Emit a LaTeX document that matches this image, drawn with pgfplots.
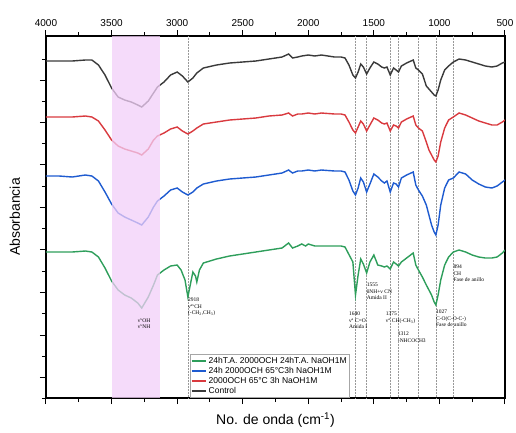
\documentclass[border=0pt]{standalone}
\usepackage{fontspec}
\setmainfont{Liberation Sans}
\newfontfamily\serif{Liberation Serif}
\usepackage{pgfplots}
\pgfplotsset{compat=1.18}
\usepackage{pgfplotstable}

\definecolor{cgreen}{HTML}{2E9E5B}
\definecolor{cblue}{HTML}{1E5BD0}
\definecolor{cred}{HTML}{D93A3F}
\definecolor{cblack}{HTML}{3A3A3A}
\definecolor{band}{HTML}{F2CFF8}

% w = wave number, p = vertical position (down is larger)
\pgfplotstableread{
w p
4000 61
3900 61
3800 61
3700 60
3650 60
3600 65
3550 75
3500 88
3450 97
3400 100
3350 102
3300 105
3270 107
3220 101
3180 93
3150 87
3100 82
3050 75
3000 72
2960 76
2918 82
2880 78
2850 73
2800 68
2700 65
2600 63
2500 62
2400 61
2300 59
2200 57
2150 54
2120 58
2080 57
2050 56
2000 55
1950 56
1900 55
1800 57
1750 57
1720 58
1690 65
1660 75
1640 78
1620 72
1600 64
1580 67
1555 74
1530 68
1500 62
1470 64
1440 67
1420 68
1400 67
1375 75
1350 68
1330 70
1312 72
1290 66
1250 63
1200 60
1180 68
1160 70
1130 74
1100 86
1060 92
1040 95
1027 96
1010 90
990 80
960 70
930 66
894 62
850 59
800 60
750 62
700 64
650 66
600 67
560 66
520 63
500 62
}\control

\pgfplotstableread{
w p
4000 117
3900 117
3800 117
3700 116
3650 117
3600 121
3550 130
3500 140
3450 146
3400 149
3350 151
3300 153
3270 155
3220 149
3180 140
3150 136
3100 133
3050 129
3000 127
2960 131
2918 134
2880 131
2850 128
2800 124
2700 122
2600 120
2500 119
2400 118
2300 116
2200 115
2150 113
2120 116
2080 114
2050 114
2000 113
1950 114
1900 113
1800 114
1750 114
1720 115
1690 122
1660 130
1640 133
1620 127
1600 121
1580 124
1555 131
1530 125
1500 118
1470 120
1440 123
1420 124
1400 123
1375 131
1350 125
1330 126
1312 128
1290 122
1250 119
1200 116
1180 125
1160 128
1130 131
1100 142
1080 150
1060 155
1040 160
1027 162
1010 156
990 142
960 128
930 120
894 117
850 113
800 115
750 118
700 121
650 123
600 125
560 125
520 122
500 120
}\redtab

\pgfplotstableread{
w p
4000 176
3900 176
3800 177
3700 175
3650 176
3600 181
3550 192
3500 204
3450 213
3400 217
3350 220
3300 223
3270 225
3220 217
3180 207
3150 201
3100 196
3050 190
3000 188
2960 192
2918 195
2880 192
2850 188
2800 184
2700 181
2600 179
2500 178
2400 177
2300 175
2200 173
2150 170
2120 173
2080 171
2050 171
2000 170
1950 171
1900 170
1800 171
1750 171
1720 172
1690 180
1660 191
1640 195
1620 188
1600 178
1580 182
1555 192
1530 184
1500 174
1470 177
1440 181
1420 183
1400 181
1375 192
1350 183
1330 184
1312 187
1290 178
1250 175
1200 172
1180 185
1160 190
1130 196
1100 205
1080 215
1060 225
1040 232
1027 235
1010 225
990 205
960 188
930 180
894 178
850 172
800 174
750 180
700 184
650 187
600 188
560 186
520 182
500 180
}\bluetab

\pgfplotstableread{
w p
4000 252
3900 252
3800 252
3700 251
3650 252
3600 257
3550 268
3500 281
3450 290
3400 295
3350 298
3300 303
3270 308
3220 297
3180 285
3150 275
3100 270
3050 266
3000 265
2970 270
2940 280
2918 297
2900 285
2880 272
2860 276
2850 282
2830 270
2800 263
2700 259
2600 256
2500 254
2400 252
2300 250
2200 248
2150 243
2120 248
2080 246
2050 244
2020 246
2000 244
1950 246
1900 246
1800 246
1750 246
1720 247
1700 252
1680 257
1660 262
1640 295
1620 275
1600 259
1580 264
1555 273
1530 262
1500 255
1470 265
1440 266
1420 267
1400 266
1375 269
1350 262
1330 264
1312 266
1290 262
1250 258
1200 253
1180 265
1160 270
1130 277
1100 285
1060 295
1040 302
1027 305
1010 295
990 280
960 265
930 257
894 252
850 250
800 252
750 255
700 257
650 258
600 258
560 257
520 253
500 250
}\greentab

\begin{document}
\begin{tikzpicture}
\begin{axis}[
    scale only axis,
    width=459pt, height=362pt,
    xmin=500, xmax=4000,
    ymin=36, ymax=398,
    x dir=reverse, y dir=reverse,
    xtick={500,1000,...,4000},
    minor x tick num=1,
    xticklabel pos=top,
    xticklabel style={/pgf/number format/1000 sep=, font=\fontsize{10}{11}\selectfont,
        anchor=center, yshift=1pt},
    xticklabel shift=6pt,
    /pgf/number format/assume math mode=true,
    ytick={377,335,292,249,207,164,122,80},
    minor ytick={398,356,313,271,228,186,143,101,59},
    yticklabels={},
    ytick pos=left,
    tick align=outside,
    major tick length=6pt,
    minor tick length=4pt,
    every tick/.style={black, line width=1pt},
    axis line style={black, line width=1.3pt},
    xlabel={No. de onda (cm\textsuperscript{-1})},
    ylabel={Absorbancia},
    xlabel style={font=\fontsize{14}{15}\selectfont, at={(axis description cs:0.5,-0.062)}, anchor=center},
    ylabel style={font=\fontsize{14}{15}\selectfont, at={(axis description cs:-0.068,0.5)}, anchor=center, rotate=0},
    legend style={at={(axis cs:2905,398)}, anchor=south west,
        font=\fontsize{8.5}{9}\selectfont, draw=gray!70, line width=0.6pt,
        inner sep=1pt, row sep=-1.8pt, fill=white},
    legend cell align=left,
    legend image code/.code={\draw[#1, line width=1.8pt] (0pt,0pt) -- (14pt,0pt);},
]
% reference lines
\addplot[forget plot, gray!80, densely dotted, line width=0.5pt] coordinates {(2918,36) (2918,398)};
\addplot[forget plot, gray!80, densely dotted, line width=0.5pt] coordinates {(1640,36) (1640,398)};
\addplot[forget plot, gray!80, densely dotted, line width=0.5pt] coordinates {(1555,36) (1555,398)};
\addplot[forget plot, gray!80, densely dotted, line width=0.5pt] coordinates {(1375,36) (1375,398)};
\addplot[forget plot, gray!80, densely dotted, line width=0.5pt] coordinates {(1312,36) (1312,398)};
\addplot[forget plot, gray!80, densely dotted, line width=0.5pt] coordinates {(1160,36) (1160,398)};
\addplot[forget plot, gray!80, densely dotted, line width=0.5pt] coordinates {(1027,36) (1027,398)};
\addplot[forget plot, gray!80, densely dotted, line width=0.5pt] coordinates {(894,36) (894,398)};

\addplot[cgreen, line width=1.4pt] table[x=w, y=p] {\greentab};
\addlegendentry{24hT.A. 2000OCH 24hT.A. NaOH1M}
\addplot[cblue, line width=1.4pt] table[x=w, y=p] {\bluetab};
\addlegendentry{24h 2000OCH 65°C3h NaOH1M}
\addplot[cred, line width=1.4pt] table[x=w, y=p] {\redtab};
\addlegendentry{2000OCH 65°C 3h NaOH1M}
\addplot[cblack, line width=1.4pt] table[x=w, y=p] {\control};
\addlegendentry{Control}

% shaded band
\addplot[forget plot, draw=none, fill=band, fill opacity=0.75] coordinates {(3500,36) (3130,36) (3130,398) (3500,398)} -- cycle;

% annotations
\begin{scope}[every node/.style={font=\serif\fontsize{5.5}{6.5}\selectfont, align=left, anchor=north west, inner sep=0pt}]
\node at (axis cs:3300,318) {ν\textsuperscript{s}OH\\ν\textsuperscript{s}NH};
\node at (axis cs:2918,298) {2918\\ν\textsuperscript{as}CH\\(-CH\textsubscript{2},CH\textsubscript{3})};
\node at (axis cs:1690,312) {1640\\ν\textsuperscript{a} C=O\\Amida I};
\node at (axis cs:1555,283) {1555\\δNH+ν CN\\Amida II};
\node at (axis cs:1410,312) {1375\\ν\textsuperscript{a} CH(-CH\textsubscript{3})};
\node at (axis cs:1318,332) {1312\\-NHCOCH3};
\node at (axis cs:1027,310) {1027\\C-O(C-O-C-)\\Fase de anillo};
\node at (axis cs:894,265) {894\\CH\\Fase de anillo};
\end{scope}
\end{axis}
\pgfresetboundingbox
\path[use as bounding box] (current axis.south west) ++(-46pt,-34pt) rectangle ([shift={(11pt,36pt)}]current axis.north east);
\end{tikzpicture}
\end{document}
